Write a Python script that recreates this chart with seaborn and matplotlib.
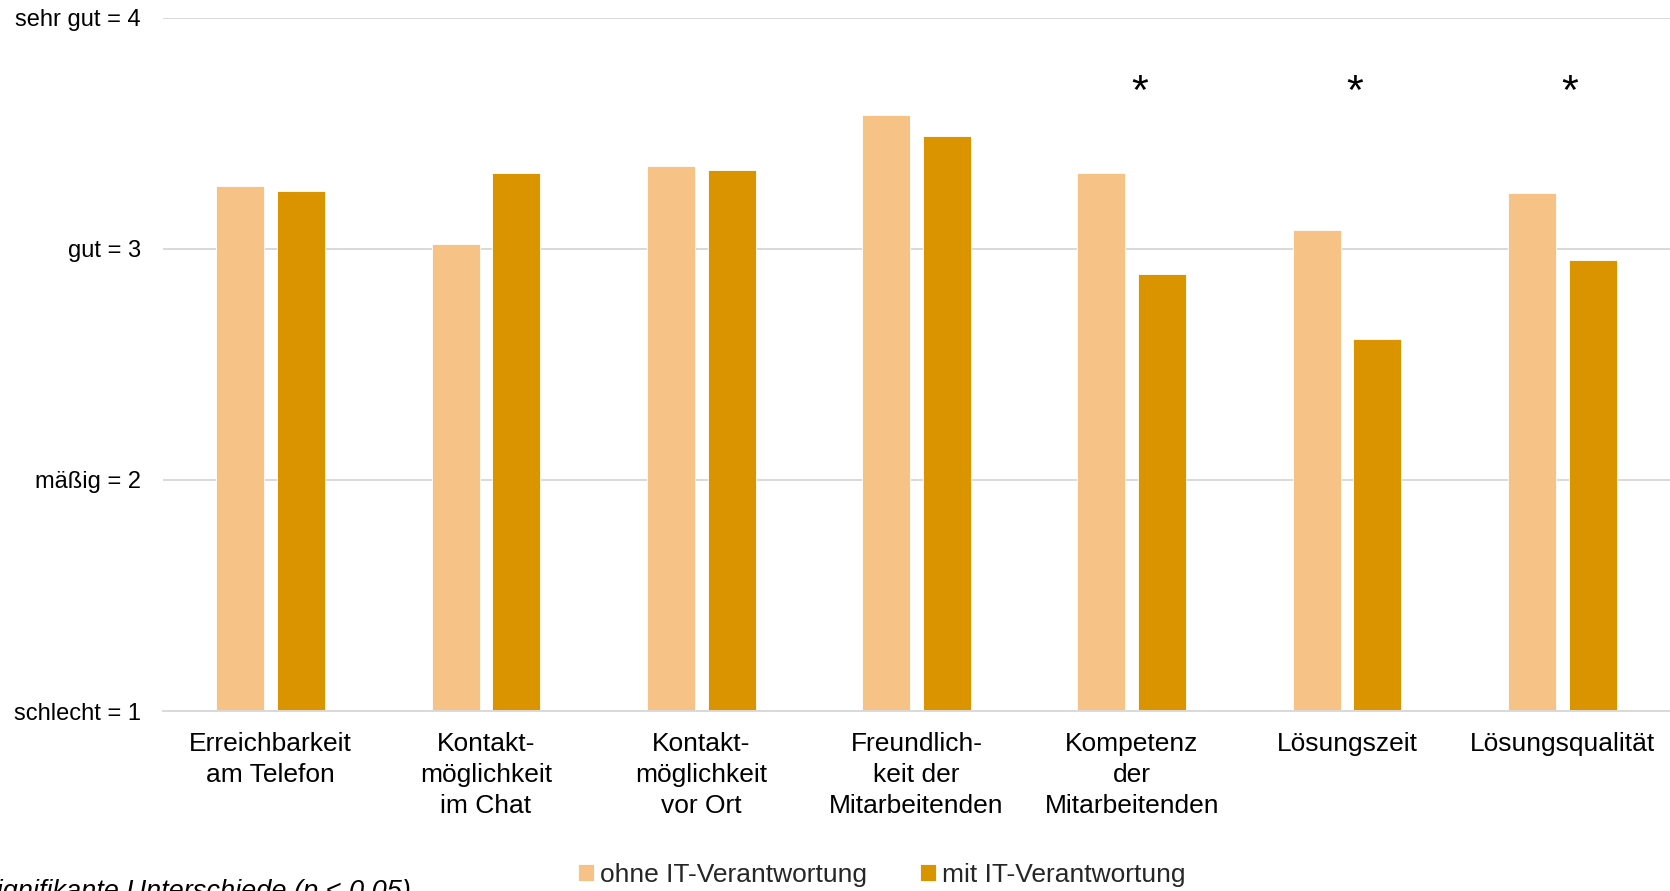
import matplotlib
matplotlib.use("Agg")
import matplotlib.pyplot as plt
import seaborn as sns
import pandas as pd

categories = [
    "Erreichbarkeit\nam Telefon",
    "Kontakt-\nmöglichkeit\nim Chat",
    "Kontakt-\nmöglichkeit\nvor Ort",
    "Freundlich-\nkeit der\nMitarbeitenden",
    "Kompetenz\nder\nMitarbeitenden",
    "Lösungszeit",
    "Lösungsqualität",
]
series_names = ["ohne IT-Verantwortung", "mit IT-Verantwortung"]
ohne_values = [3.27, 3.02, 3.36, 3.58, 3.33, 3.08, 3.24]
mit_values = [3.25, 3.33, 3.34, 3.49, 2.89, 2.61, 2.95]
significant = [False, False, False, False, True, True, True]
ytick_values = [1, 2, 3, 4]
ytick_labels = ["schlecht = 1", "mäßig = 2", "gut = 3", "sehr gut = 4"]
footnote = "* signifikante Unterschiede (p < 0,05)"

colors = ["#F6C286", "#DA9400"]

df = pd.DataFrame({
    "Kategorie": categories * 2,
    "Gruppe": [series_names[0]] * len(categories) + [series_names[1]] * len(categories),
    "Wert": ohne_values + mit_values,
})

sns.set_theme(style="white")
plt.rcParams["font.family"] = ["Liberation Sans", "DejaVu Sans"]

fig = plt.figure(figsize=(16.7, 8.91), dpi=100)
ax = fig.add_axes([0.0976, 0.202, 0.9024, 0.778])

sns.barplot(data=df, x="Kategorie", y="Wert", hue="Gruppe", order=categories,
            hue_order=series_names, palette=colors, saturation=1, width=0.564, gap=0.21,
            edgecolor="white", linewidth=0.6, ax=ax, errorbar=None)

ax.set_ylim(1, 4)
ax.set_xlim(-0.5, len(categories) - 0.5)
ax.set_yticks(ytick_values)
ax.set_yticklabels(ytick_labels, fontsize=17, color="black")
ax.tick_params(axis="y", length=0, pad=16)
ax.tick_params(axis="x", length=0, pad=15, labelsize=19, labelcolor="black")
for lbl in ax.get_xticklabels():
    lbl.set_linespacing(1.37)
ax.set_xlabel("")
ax.set_ylabel("")
ax.yaxis.grid(True, color="#D9D9D9", linewidth=1.4)
ax.set_axisbelow(True)
for s in ["top", "right", "left"]:
    ax.spines[s].set_visible(False)
ax.spines["bottom"].set_color("#D9D9D9")
ax.spines["bottom"].set_linewidth(1.4)

for i, sig in enumerate(significant):
    if sig:
        ax.text(i + 0.035, 3.675, "*", ha="center", va="center", fontsize=31, color="black")

handles, labels = ax.get_legend_handles_labels()
if ax.get_legend() is not None:
    ax.get_legend().remove()
fig.legend(handles, labels, loc="center", bbox_to_anchor=(0.528, 0.018), ncol=2,
           frameon=False, fontsize=19, handlelength=0.6, handleheight=0.6,
           handletextpad=0.25, columnspacing=2.0, borderaxespad=0)

fig.text(411 / 1670, 0.0135, footnote, ha="right", va="top", fontsize=19.5,
         style="italic", color="black")

fig.savefig("out.png", dpi=100)
